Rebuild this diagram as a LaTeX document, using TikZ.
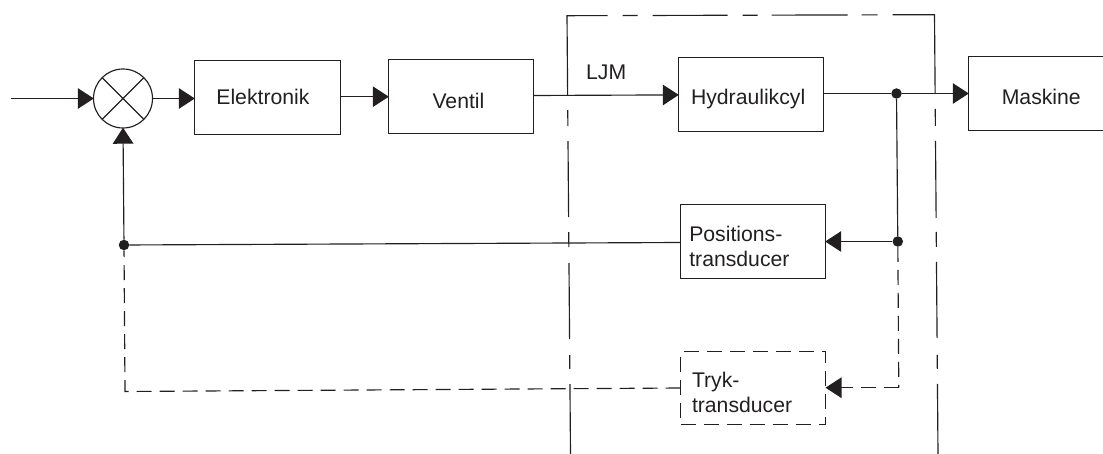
\documentclass[tikz,border=0pt]{standalone}
\usepackage{fontspec}
\setmainfont{Liberation Sans}
\usetikzlibrary{arrows.meta,shapes.geometric,calc}
\definecolor{inkc}{HTML}{231F20}
\tikzset{
  wire/.style={draw=inkc,line width=1.15pt},
  flow/.style={wire,-{Triangle[length=16pt,width=20.5pt,fill=inkc]},shorten >=-0.3pt},
  dwire/.style={wire,dash pattern=on 15pt off 8pt},
  block/.style={draw=inkc,line width=1.15pt,anchor=north west,outer sep=0pt,inner ysep=0pt,
    align=left,text depth=0pt,text=inkc},
  dot/.style={circle,fill=inkc,draw=none,minimum size=10.5pt,inner sep=0pt},
  sumnode/.style={circle,draw=inkc,line width=1.15pt,minimum size=59pt,inner sep=0pt,outer sep=0pt},
  plain/.style={text=inkc,inner sep=0pt,anchor=base west}
}
\begin{document}
\begin{tikzpicture}[x=1pt,y=-1pt,font=\fontsize{21.2}{25.6}\selectfont]
\useasboundingbox (0,0) rectangle (1103,454);
\clip (0,0) rectangle (1103,454);
% system frame
\coordinate (fa) at (570.5,454);
\coordinate (fb) at (567,15.7);
\coordinate (fc) at (934.5,14.7);
\coordinate (fd) at (938,454);
\draw[wire,line join=miter,dash pattern=on 70pt off 15pt on 14pt off 16pt on 76pt off 16pt on 15pt off 15pt on 76pt off 15pt on 16pt off 15pt on 120pt off 15pt on 15pt off 15pt on 75pt off 15pt on 15pt off 14pt on 76pt off 14pt on 16pt off 15pt on 121pt off 15pt on 17pt off 15pt on 77pt off 14pt on 15pt off 15pt on 76pt off 17pt on 14pt off 15pt on 100pt]
  (fa) -- (fb) -- (fc) -- (fd);
% summing point
\node[sumnode] (sum) at (123,98.5) {};
\draw[wire] (sum.45) -- (sum.225) (sum.135) -- (sum.315);
% blocks
\node[block,minimum width=146pt,minimum height=74pt,inner xsep=21.9pt,text width=102.2pt,text height=14.6pt] (elek) at (194.5,60.5) {Elektronik};
\node[block,minimum width=145pt,minimum height=74pt,inner xsep=44pt,text width=57pt,text height=23.4pt] (vent) at (388.5,59.5) {Ventil};
\node[block,minimum width=145pt,minimum height=74pt,inner xsep=12.5pt,text width=120pt,text height=19.4pt] (hyd) at (678.5,57.5) {Hydraulikcyl};
\node[block,minimum width=170pt,minimum height=74pt,inner xsep=33.3pt,text width=103.4pt,text height=22pt] (mask) at (968.5,56.5) {Maskine};
\node[block,minimum width=145pt,minimum height=74pt,inner xsep=8.8pt,text width=127.4pt,text height=15pt,text depth=15.4pt] (pos) at (680.5,204.5) {Positions-\\transducer};
\node[block,dashed,dash pattern=on 15pt off 8pt,minimum width=145pt,minimum height=73pt,inner xsep=11.5pt,text width=122pt,text height=15pt,text depth=16.4pt] (tryk) at (680.5,351.5) {Tryk-\\transducer};
\node[plain] (ljm) at (586,80) {LJM};
% junctions and free ends
\coordinate (inp) at (10.5,98.5);
\node[dot] (jout) at (896.5,93.5) {};
\node[dot] (jpos) at (897.8,241.5) {};
\node[dot] (jfb) at (124,245) {};
\coordinate (ctr) at (898.8,387.7);
\coordinate (cbl) at (125,391.5);
% forward path
\draw[flow] (inp) -- (sum.west |- inp);
\draw[flow] (sum.east) -- (sum.east -| elek.west);
\draw[flow] ($(elek.east)+(0,-0.8)$) -- ($(vent.west)+(0,0.2)$);
\draw[flow] ($(vent.east)+(0,-1)$) -- ($(hyd.west)+(0,0.4)$);
\draw[wire] ($(hyd.east)+(0,-1)$) -- (jout);
\draw[flow] (jout) -- (jout -| mask.west);
% feedback
\draw[wire] (jout) -- (jpos);
\draw[flow] (jpos) -- (jpos -| pos.east);
\draw[wire] ($(pos.west)+(0,1)$) -- (jfb);
\draw[flow] (jfb) -- (sum.south);
% pressure path
\draw[dwire] (jpos) -- (ctr);
\draw[wire,dash pattern=on 15pt off 8pt,-{Triangle[length=16pt,width=20.5pt,fill=inkc]}] (ctr) -- (ctr -| tryk.east);
\draw[dwire] (tryk.west) -- (cbl) -- (jfb);
\end{tikzpicture}
\end{document}
